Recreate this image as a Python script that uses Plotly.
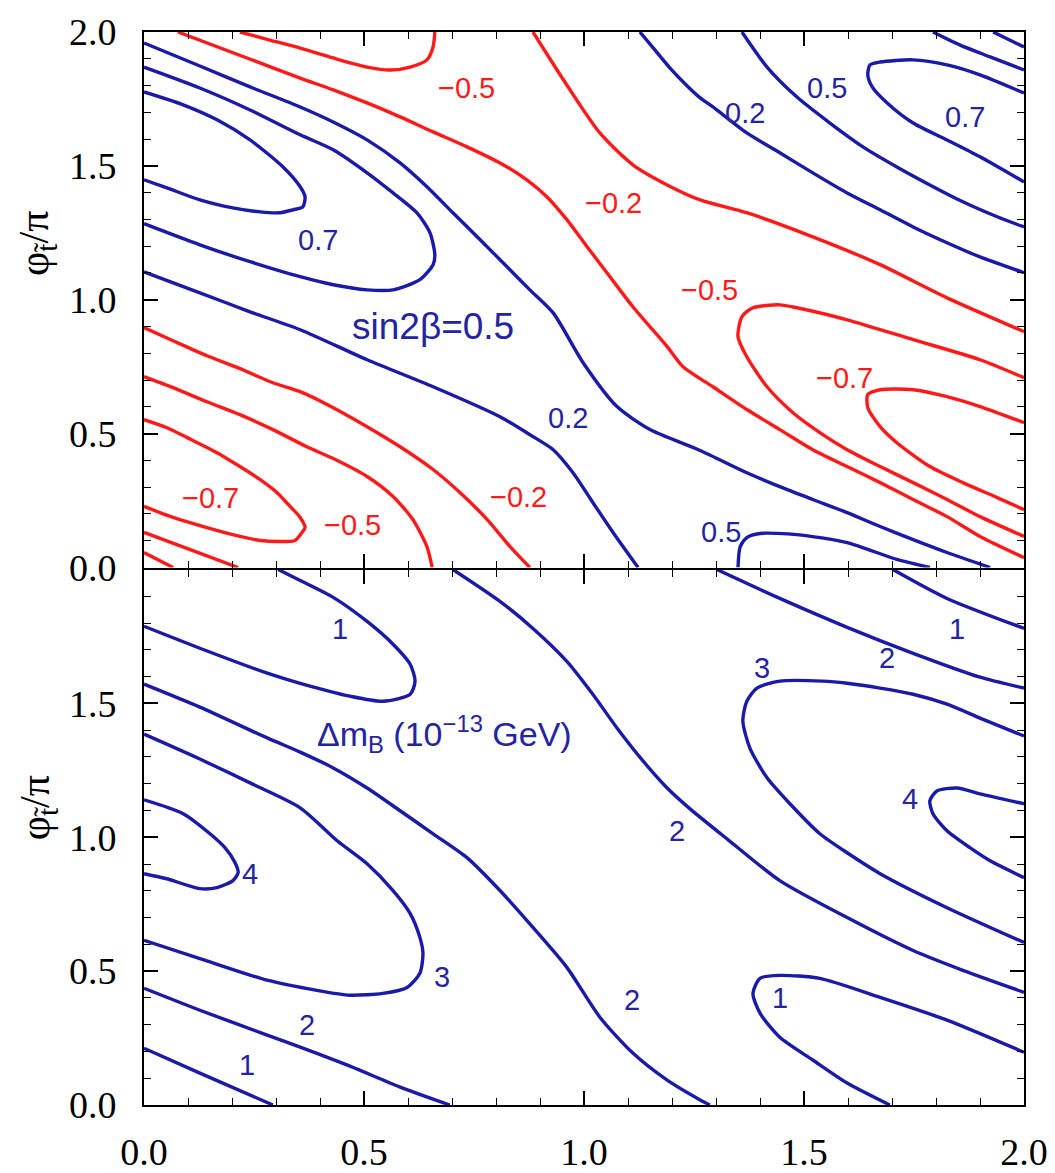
import plotly.graph_objects as go

# ---------------- top panel: sin2beta contours (x = phi_A/pi, y = phi_t/pi) ----------------
ra_x = [0.0, 0.066]
ra_y = [0.056, 0.0]
rb_x = [0.0, 0.105, 0.214]
rb_y = [0.131, 0.067, 0.0]
rc_x = [0.0, 0.066, 0.143, 0.218, 0.264, 0.309, 0.343, 0.359, 0.366, 0.355, 0.332, 0.302, 0.264, 0.218, 0.166, 0.098, 0.052, 0.0]
rc_y = [0.228, 0.187, 0.149, 0.116, 0.101, 0.097, 0.101, 0.131, 0.149, 0.187, 0.228, 0.280, 0.328, 0.377, 0.429, 0.485, 0.522, 0.552]
rd_x = [0.0, 0.066, 0.143, 0.218, 0.293, 0.370, 0.430, 0.507, 0.566, 0.611, 0.643, 0.655]
rd_y = [0.713, 0.672, 0.619, 0.571, 0.515, 0.451, 0.407, 0.340, 0.265, 0.179, 0.078, 0.0]
re_x = [0.0, 0.066, 0.143, 0.218, 0.293, 0.355, 0.430, 0.507, 0.582, 0.657, 0.718, 0.780, 0.832, 0.877]
re_y = [0.896, 0.847, 0.791, 0.743, 0.690, 0.657, 0.597, 0.526, 0.451, 0.366, 0.280, 0.179, 0.078, 0.0]
rf_x = [0.077, 0.234, 0.355, 0.430, 0.507, 0.582, 0.657, 0.734, 0.809, 0.870, 0.916, 0.961, 1.007, 1.052,
        1.111, 1.189, 1.225, 1.293, 1.370, 1.445, 1.520, 1.598, 1.673, 1.748, 1.825, 1.900, 2.0]
rf_y = [2.0, 1.903, 1.828, 1.784, 1.735, 1.683, 1.627, 1.571, 1.511, 1.448, 1.384, 1.299, 1.198, 1.101,
        0.974, 0.825, 0.750, 0.675, 0.590, 0.515, 0.440, 0.377, 0.317, 0.254, 0.190, 0.116, 0.037]
rg_x = [0.218, 0.286, 0.355, 0.430, 0.507, 0.559, 0.605, 0.643, 0.657, 0.661]
rg_y = [2.0, 1.970, 1.940, 1.903, 1.869, 1.858, 1.869, 1.896, 1.944, 2.0]
rh_x = [0.884, 0.961, 1.036, 1.111, 1.189, 1.264, 1.370, 1.520, 1.673, 1.825, 2.0]
rh_y = [2.0, 1.802, 1.623, 1.504, 1.429, 1.373, 1.325, 1.235, 1.131, 1.007, 0.881]
ri_x = [2.0, 1.900, 1.748, 1.598, 1.484, 1.445, 1.384, 1.359, 1.350, 1.370, 1.416, 1.475, 1.536, 1.598, 1.673, 1.748, 1.825, 1.900, 2.0]
ri_y = [0.709, 0.776, 0.851, 0.925, 0.970, 0.981, 0.970, 0.937, 0.862, 0.787, 0.675, 0.578, 0.504, 0.440, 0.377, 0.317, 0.254, 0.190, 0.116]
rj_x = [2.0, 1.900, 1.825, 1.748, 1.673, 1.645, 1.645, 1.673, 1.711, 1.786, 1.861, 1.939, 2.0]
rj_y = [0.541, 0.601, 0.638, 0.664, 0.664, 0.646, 0.597, 0.526, 0.466, 0.377, 0.317, 0.261, 0.216]

b1_x = [0.0, 0.127, 0.241, 0.355, 0.430, 0.507, 0.582, 0.643, 0.702, 0.764, 0.825, 0.877, 0.930, 0.998,
        1.075, 1.150, 1.264, 1.370, 1.445, 1.520, 1.598, 1.673, 1.748, 1.825, 1.923]
b1_y = [1.959, 1.873, 1.795, 1.720, 1.664, 1.597, 1.511, 1.422, 1.325, 1.224, 1.123, 1.037, 0.951, 0.765,
        0.601, 0.515, 0.437, 0.354, 0.302, 0.254, 0.205, 0.153, 0.104, 0.056, 0.0]
b2_x = [0.0, 0.127, 0.241, 0.355, 0.430, 0.507, 0.566, 0.620, 0.650, 0.661, 0.657, 0.627, 0.566, 0.507, 0.430, 0.355, 0.241, 0.127, 0.0]
b2_y = [1.869, 1.791, 1.709, 1.616, 1.560, 1.474, 1.399, 1.325, 1.250, 1.168, 1.131, 1.075, 1.037, 1.037, 1.056, 1.086, 1.142, 1.205, 1.284]
b3_x = [0.0, 0.089, 0.166, 0.241, 0.316, 0.355, 0.366, 0.361, 0.339, 0.309, 0.264, 0.202, 0.127, 0.052, 0.0]
b3_y = [1.776, 1.728, 1.672, 1.597, 1.496, 1.422, 1.384, 1.347, 1.336, 1.325, 1.328, 1.343, 1.373, 1.418, 1.448]
b4_x = [0.0, 0.127, 0.241, 0.355, 0.507, 0.657, 0.809, 0.884, 0.930, 0.975, 1.020, 1.066, 1.123]
b4_y = [1.104, 1.026, 0.955, 0.888, 0.776, 0.675, 0.563, 0.489, 0.440, 0.354, 0.243, 0.131, 0.0]
b5_x = [1.127, 1.161, 1.195, 1.230, 1.264, 1.293, 1.370, 1.445, 1.520, 1.598, 1.673, 1.748, 1.825, 1.900, 2.0]
b5_y = [2.0, 1.933, 1.866, 1.806, 1.754, 1.720, 1.623, 1.549, 1.474, 1.399, 1.336, 1.272, 1.213, 1.160, 1.101]
b6_x = [1.359, 1.416, 1.484, 1.559, 1.634, 1.711, 1.786, 1.861, 1.939, 2.0]
b6_y = [2.0, 1.869, 1.757, 1.660, 1.571, 1.496, 1.429, 1.366, 1.310, 1.272]
b7_x = [2.0, 1.900, 1.825, 1.748, 1.673, 1.650, 1.645, 1.655, 1.689, 1.748, 1.825, 1.900, 2.0]
b7_y = [1.772, 1.840, 1.877, 1.896, 1.888, 1.877, 1.840, 1.795, 1.735, 1.660, 1.597, 1.534, 1.440]
b8_x = [1.793, 1.855, 1.923, 2.0]
b8_y = [2.0, 1.951, 1.907, 1.858]
b9_x = [1.930, 2.0]
b9_y = [2.0, 1.944]
b10_x = [1.350, 1.355, 1.370, 1.400, 1.484, 1.598, 1.711, 1.786]
b10_y = [0.0, 0.078, 0.112, 0.127, 0.123, 0.093, 0.030, 0.0]

# ---------------- bottom panel: Delta m_B contours ----------------
c1a_x = [0.0, 0.127, 0.280, 0.355, 0.468, 0.543, 0.605, 0.616, 0.605, 0.566, 0.507, 0.430, 0.355, 0.305]
c1a_y = [1.788, 1.706, 1.613, 1.575, 1.527, 1.508, 1.534, 1.583, 1.646, 1.721, 1.806, 1.896, 1.959, 2.0]
c1b_x = [0.0, 0.127, 0.293]
c1b_y = [0.212, 0.119, 0.0]
c1c_x = [1.702, 1.825, 2.0]
c1c_y = [2.0, 1.892, 1.780]
c1d_x = [2.0, 1.825, 1.673, 1.536, 1.445, 1.400, 1.384, 1.400, 1.445, 1.520, 1.598, 1.695]
c1d_y = [0.197, 0.317, 0.402, 0.473, 0.484, 0.473, 0.417, 0.343, 0.253, 0.168, 0.082, 0.0]
c2a_x = [0.702, 0.809, 0.884, 0.961, 1.020, 1.075, 1.134, 1.189, 1.241, 1.325, 1.445, 1.598, 1.748, 1.861, 2.0]
c2a_y = [2.0, 1.881, 1.780, 1.657, 1.534, 1.408, 1.285, 1.184, 1.106, 0.994, 0.838, 0.700, 0.577, 0.503, 0.421]
c2b_x = [0.0, 0.127, 0.280, 0.355, 0.468, 0.582, 0.695]
c2b_y = [0.436, 0.354, 0.261, 0.216, 0.145, 0.067, 0.0]
c2c_x = [1.302, 1.445, 1.598, 1.748, 1.900, 2.0]
c2c_y = [2.0, 1.892, 1.784, 1.687, 1.598, 1.557]
c2d_x = [0.0, 0.127, 0.280, 0.355, 0.430, 0.507, 0.582, 0.657, 0.734, 0.809, 0.884, 0.961, 1.036, 1.111, 1.189, 1.264, 1.286]
c2d_y = [1.572, 1.486, 1.371, 1.318, 1.259, 1.184, 1.099, 1.013, 0.924, 0.801, 0.663, 0.514, 0.328, 0.194, 0.093, 0.019, 0.0]
c3a_x = [0.0, 0.127, 0.241, 0.355, 0.439, 0.507, 0.566, 0.605, 0.627, 0.634, 0.627, 0.598, 0.543, 0.468, 0.393, 0.280, 0.127, 0.0]
c3a_y = [1.385, 1.292, 1.203, 1.110, 0.987, 0.901, 0.801, 0.715, 0.626, 0.566, 0.492, 0.439, 0.417, 0.410, 0.428, 0.466, 0.547, 0.615]
c3b_x = [2.0, 1.900, 1.825, 1.748, 1.673, 1.598, 1.543, 1.445, 1.393, 1.370, 1.361, 1.377, 1.416, 1.468, 1.536, 1.598, 1.673, 1.825, 2.0]
c3b_y = [1.378, 1.445, 1.497, 1.534, 1.557, 1.575, 1.583, 1.583, 1.557, 1.508, 1.434, 1.333, 1.222, 1.125, 1.013, 0.942, 0.864, 0.737, 0.607]
c4a_x = [0.0, 0.089, 0.150, 0.184, 0.207, 0.214, 0.202, 0.166, 0.127, 0.052, 0.0]
c4a_y = [1.140, 1.088, 1.013, 0.961, 0.905, 0.868, 0.838, 0.812, 0.808, 0.845, 0.864]
c4b_x = [2.0, 1.900, 1.848, 1.802, 1.786, 1.793, 1.825, 1.877, 1.923, 2.0]
c4b_y = [1.125, 1.162, 1.184, 1.173, 1.136, 1.088, 1.024, 0.961, 0.912, 0.849]

# ---------------- in-plot labels ----------------
top_label_text = ["\u22120.5", "\u22120.2", "0.2", "0.5", "0.7", "0.7", "\u22120.5", "0.2", "\u22120.7", "\u22120.2", "\u22120.5", "\u22120.7", "0.5"]
top_label_x = [0.732, 1.066, 1.366, 1.552, 1.866, 0.395, 1.286, 0.964, 1.591, 0.852, 0.473, 0.152, 1.311]
top_label_y = [1.791, 1.362, 1.698, 1.791, 1.683, 1.224, 1.037, 0.560, 0.709, 0.265, 0.160, 0.261, 0.134]
top_label_kind = ["r", "r", "b", "b", "b", "b", "r", "b", "r", "r", "r", "r", "b"]

bot_label_text = ["1", "2", "3", "2", "1", "4", "4", "3", "2", "2", "1", "1"]
bot_label_x = [0.445, 1.211, 1.405, 1.689, 1.848, 1.741, 0.241, 0.677, 1.109, 0.370, 0.234, 1.445]
bot_label_y = [1.777, 1.024, 1.631, 1.669, 1.777, 1.143, 0.864, 0.477, 0.391, 0.298, 0.149, 0.399]

tick_vals = [0.0, 0.5, 1.0, 1.5, 2.0]
tick_text = ["0.0", "0.5", "1.0", "1.5", "2.0"]
tick_text_lower_y = ["0.0", "0.5", "1.0", "1.5", ""]

BLUE = "#1a1aa8"
RED = "#ff1a1a"
LBLUE = "#2424a2"

top_red = [(ra_x, ra_y), (rb_x, rb_y), (rc_x, rc_y), (rd_x, rd_y), (re_x, re_y), (rf_x, rf_y),
           (rg_x, rg_y), (rh_x, rh_y), (ri_x, ri_y), (rj_x, rj_y)]
top_blue = [(b1_x, b1_y), (b2_x, b2_y), (b3_x, b3_y), (b4_x, b4_y), (b5_x, b5_y), (b6_x, b6_y),
            (b7_x, b7_y), (b8_x, b8_y), (b9_x, b9_y), (b10_x, b10_y)]
bot_blue = [(c1a_x, c1a_y), (c1b_x, c1b_y), (c1c_x, c1c_y), (c1d_x, c1d_y), (c2a_x, c2a_y), (c2b_x, c2b_y),
            (c2c_x, c2c_y), (c2d_x, c2d_y), (c3a_x, c3a_y), (c3b_x, c3b_y), (c4a_x, c4a_y), (c4b_x, c4b_y)]

fig = go.Figure()


def add(xs, ys, color, xa, ya):
    fig.add_trace(go.Scatter(x=xs, y=ys, mode="lines", xaxis=xa, yaxis=ya,
                             line=dict(color=color, width=3.4, shape="spline", smoothing=0.7),
                             hoverinfo="skip", showlegend=False))


for xs, ys in top_red:
    add(xs, ys, RED, "x", "y")
for xs, ys in top_blue:
    add(xs, ys, BLUE, "x", "y")
for xs, ys in bot_blue:
    add(xs, ys, BLUE, "x2", "y2")

annotations = []
for t, x, y, k in zip(top_label_text, top_label_x, top_label_y, top_label_kind):
    annotations.append(dict(text=t, x=x, y=y, xref="x", yref="y", showarrow=False,
                            xanchor="center", yanchor="middle",
                            font=dict(family="Liberation Sans", size=29, color=RED if k == "r" else LBLUE)))
for t, x, y in zip(bot_label_text, bot_label_x, bot_label_y):
    annotations.append(dict(text=t, x=x, y=y, xref="x2", yref="y2", showarrow=False,
                            xanchor="center", yanchor="middle",
                            font=dict(family="Liberation Sans", size=29, color=LBLUE)))
annotations.append(dict(text="sin2\u03b2=0.5", x=0.657, y=0.899, xref="x", yref="y", showarrow=False,
                        xanchor="center", yanchor="middle",
                        font=dict(family="Liberation Sans", size=37, color=LBLUE)))
annotations.append(dict(text="\u0394m<sub>B</sub> (10<sup>\u221213</sup> GeV)", x=0.684, y=1.385,
                        xref="x2", yref="y2", showarrow=False, xanchor="center", yanchor="middle",
                        font=dict(family="Liberation Sans", size=34, color=LBLUE)))
ytitle = "\u03c6<sub>t\u0303</sub>/\u03c0"
for yp in (0.803, 0.277):
    annotations.append(dict(text=ytitle, x=-0.121, y=yp, xref="paper", yref="paper", showarrow=False,
                            xanchor="center", yanchor="middle", textangle=-90,
                            font=dict(family="Liberation Serif", size=42, color="black")))

tickfont = dict(family="Liberation Serif", size=38, color="black")
minor = dict(tickmode="linear", tick0=0, dtick=0.1, ticks="inside", ticklen=7, tickwidth=1.3,
             tickcolor="black", showgrid=False)
common = dict(range=[0, 2], showgrid=False, zeroline=False, showline=True, linecolor="black",
              linewidth=2, mirror="ticks", ticks="inside", ticklen=14, tickwidth=1.5, tickcolor="black",
              tickfont=tickfont, minor=minor, automargin=False, tickvals=tick_vals)

gap = 1.0 / 1073.0
fig.update_layout(
    width=1055, height=1173,
    margin=dict(l=136, r=39, t=24, b=76, autoexpand=False),
    paper_bgcolor="white", plot_bgcolor="white",
    showlegend=False,
    xaxis=dict(domain=[0, 1], anchor="y", showticklabels=False, **common),
    yaxis=dict(domain=[0.5 + gap, 1], anchor="x", ticktext=tick_text, ticklabelstandoff=18, **common),
    xaxis2=dict(domain=[0, 1], anchor="y2", ticktext=tick_text, ticklabelstandoff=12, **common),
    yaxis2=dict(domain=[0, 0.5 - gap], anchor="x2", ticktext=tick_text_lower_y, ticklabelstandoff=18, **common),
    annotations=annotations,
)

fig.write_html("out.html")
